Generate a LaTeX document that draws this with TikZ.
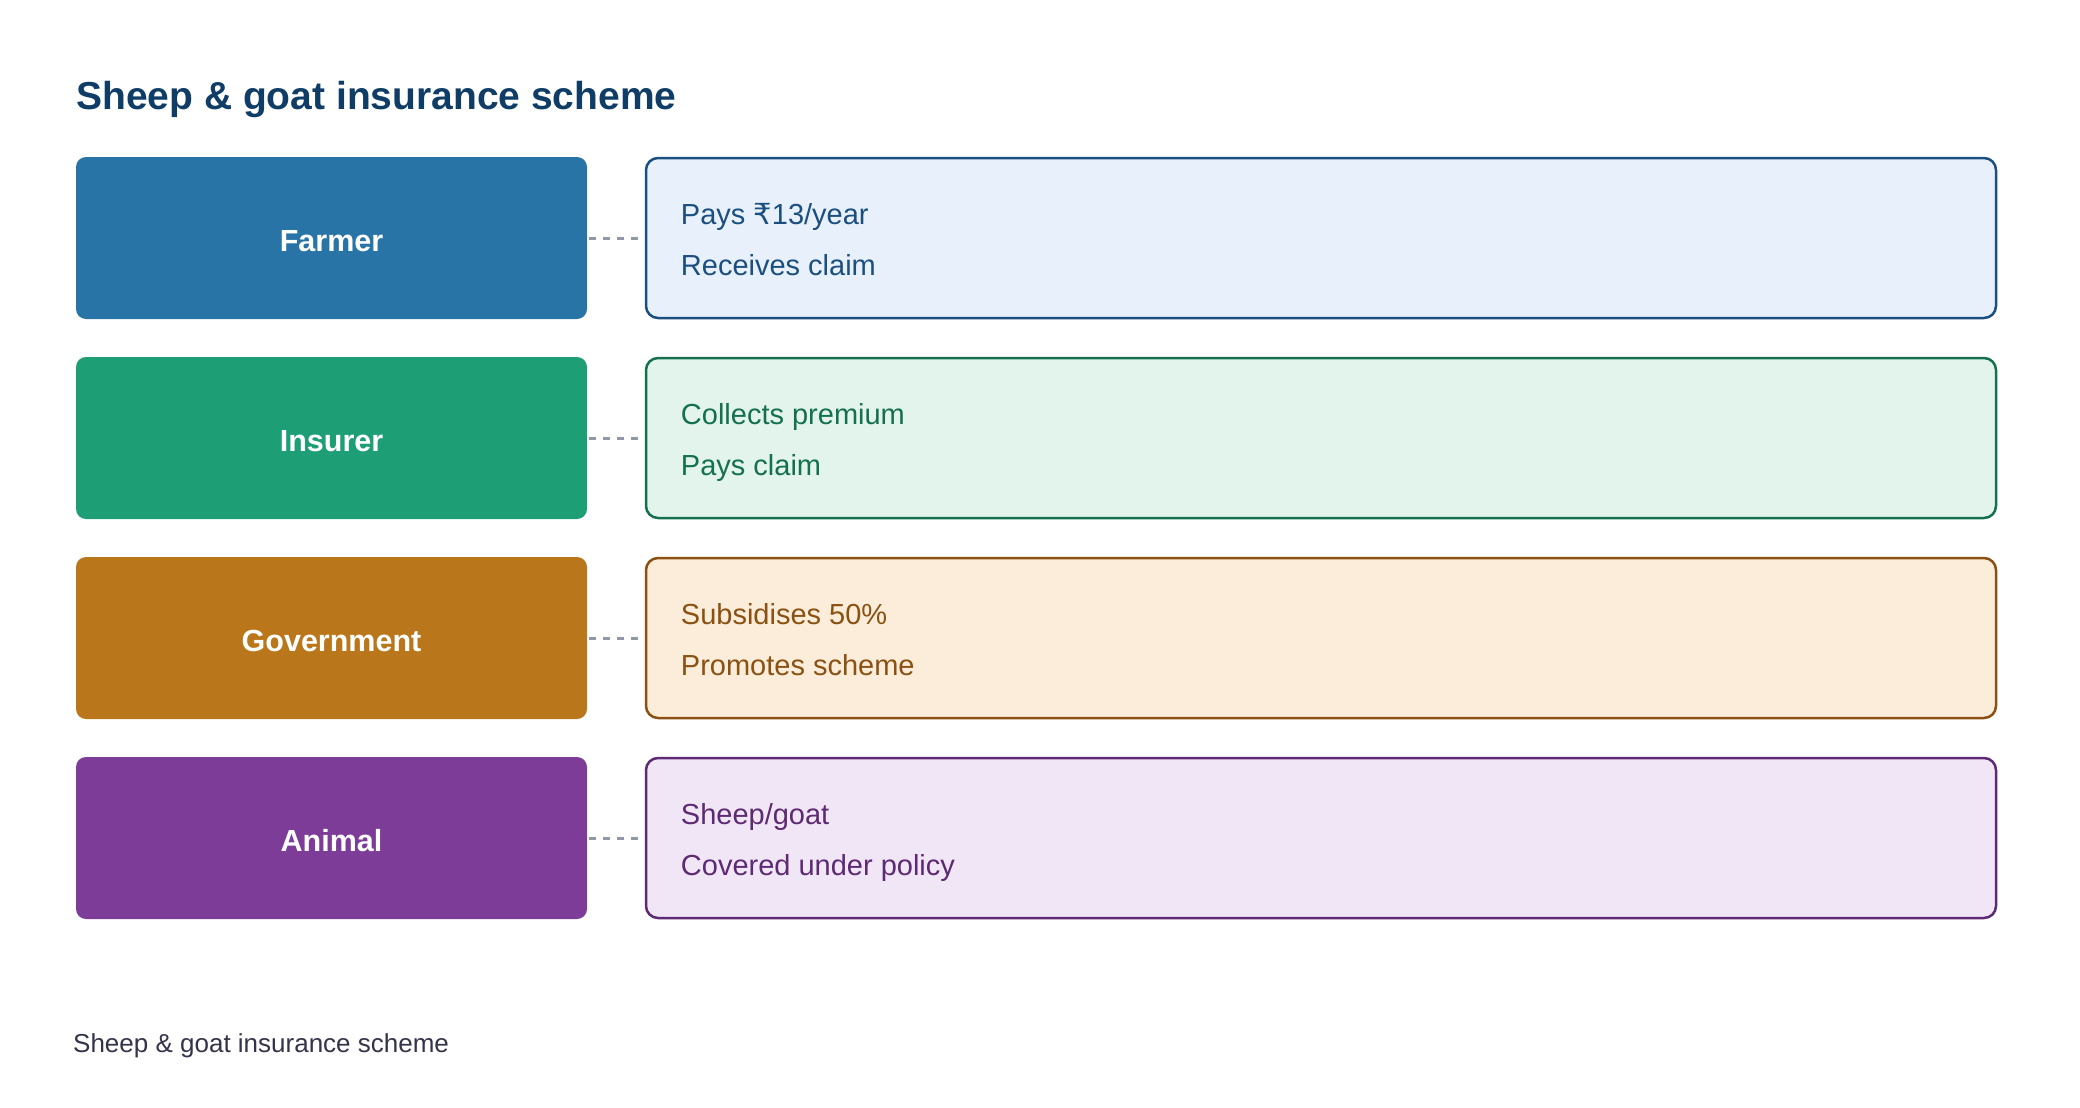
\documentclass[tikz,border=0pt]{standalone}
\usepackage{fontspec}
\setmainfont{Liberation Sans}
\newfontfamily\rupeefont{DejaVu Sans}
\usetikzlibrary{positioning,calc}

\definecolor{titleblue}{HTML}{0F3D66}
\definecolor{footgray}{HTML}{33334A}
\definecolor{linkgray}{HTML}{8F99A6}
\definecolor{farmerdark}{HTML}{2874A6}
\definecolor{farmerline}{HTML}{1B4F7F}
\definecolor{farmerlight}{HTML}{E8F1FB}
\definecolor{insurerdark}{HTML}{1E9E74}
\definecolor{insurerline}{HTML}{14704F}
\definecolor{insurerlight}{HTML}{E2F4EC}
\definecolor{govdark}{HTML}{B9761A}
\definecolor{govline}{HTML}{8A5112}
\definecolor{govlight}{HTML}{FBEDDA}
\definecolor{animaldark}{HTML}{7D3C98}
\definecolor{animalline}{HTML}{5E2A73}
\definecolor{animallight}{HTML}{F0E6F6}

\tikzset{
    rolebox/.style={rounded corners=10pt, minimum width=511pt, minimum height=162pt,
        inner sep=0pt, text=white, font=\fontsize{30.5}{36}\selectfont\bfseries},
    rolelabel/.style={inner sep=0pt, text=white, font=\fontsize{30.5}{36}\selectfont\bfseries},
    infobox/.style={draw, line width=2.5pt, rounded corners=12pt, minimum width=1350pt,
        minimum height=160pt, inner sep=0pt},
    infotext/.style={anchor=north west, inner sep=0pt, align=left,
        font=\fontsize{29}{51}\selectfont},
    linkline/.style={linkgray, line width=3pt, dash pattern=on 7pt off 7pt,
        shorten <=2pt, shorten >=4pt}
}

\begin{document}
\begin{tikzpicture}[x=1pt,y=-1pt]
        % Page
        \useasboundingbox (0,0) rectangle (2080,1108);
        % Title
        \node[anchor=base west, inner sep=0pt, text=titleblue, font=\fontsize{39}{44}\selectfont\bfseries]
            (title) at (76,109) {Sheep \& goat insurance scheme};
        % Rows
        \foreach \i/\name/\role/\col/\lineA/\lineB in {
                0/farmer/Farmer/farmer/{Pays {\rupeefont ₹}13/year}/{Receives claim},
                1/insurer/Insurer/insurer/{Collects premium}/{Pays claim},
                2/gov/Government/gov/{Subsidises 50\%}/{Promotes scheme},
                3/animal/Animal/animal/{Sheep/goat}/{Covered under policy}} {
            \node[rolebox, fill=\col dark] (\name) at (331.5,238+200*\i) {};
            \node[rolelabel] (\name label) at ($(\name.center)+(0,3)$) {\role};
            \node[infobox, draw=\col line, fill=\col light] (\name info) at (1321,238+200*\i) {};
            \node[infotext, text=\col line] (\name text) at ($(\name info.north west)+(36,31.5)$)
                {\strut\lineA\\\lineB};
            \draw[linkline] (\name.east) -- (\name info.west);
        }
        % Footer
        \node[anchor=base west, inner sep=0pt, text=footgray, font=\fontsize{26}{30}\selectfont]
            (footer) at (73,1052) {Sheep \& goat insurance scheme};
    \end{tikzpicture}
\end{document}
